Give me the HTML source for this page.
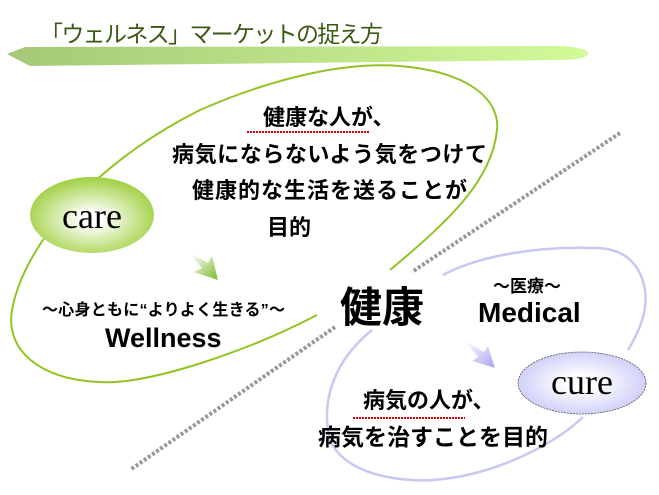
<html><body style="margin:0;background:#fff">
<svg width="659" height="495" xmlns="http://www.w3.org/2000/svg" style="font-family:'Liberation Sans','Noto Sans CJK JP',sans-serif">
<defs>
<linearGradient id="bar" x1="0" x2="1"><stop offset="0" stop-color="#a5c878"/><stop offset="1" stop-color="#d2fa98"/></linearGradient>
<radialGradient id="gc" cx="0.5" cy="0.55" r="0.55"><stop offset="0.15" stop-color="#fff"/><stop offset="1" stop-color="#a0d040"/></radialGradient>
<radialGradient id="bc" cx="0.5" cy="0.5" r="0.6"><stop offset="0.2" stop-color="#fff"/><stop offset="1" stop-color="#c4c4f8"/></radialGradient>
<linearGradient id="ga" x1="0" y1="0" x2="1" y2="1"><stop offset="0.1" stop-color="#fff"/><stop offset="0.9" stop-color="#8cc040"/></linearGradient>
<linearGradient id="ba" x1="0" y1="0" x2="1" y2="1"><stop offset="0.1" stop-color="#fff"/><stop offset="0.9" stop-color="#b0b0f2"/></linearGradient>
</defs>
<text x="40" y="42" font-size="23" fill="#3a5a12" textLength="343">「ウェルネス」マーケットの捉え方</text>
<path d="M7,54 L25,47 L560,46 Q590,48 588,54 Q585,60 560,60 L30,66 Z" fill="url(#bar)"/>
<path d="M317,315 C250,350 150,385 100,382 C40,380 5,350 12,310 C25,240 100,160 200,110 C280,75 350,62 400,66 C470,72 500,100 497,130 C492,180 450,220 390,270" fill="none" stroke="#92c424" stroke-width="2"/>
<path d="M372,330 C335,360 320,400 330,440 C345,475 400,482 433,480 C500,475 560,440 583,417 M628,350 C640,330 648,310 645,290 C640,260 620,248 595,248 C540,246 480,255 443,275" fill="none" stroke="#c8c8f4" stroke-width="2.5"/>
<line x1="620" y1="133" x2="412" y2="272" stroke="#999" stroke-width="4" stroke-dasharray="3,2"/>
<line x1="335" y1="327" x2="130" y2="470" stroke="#999" stroke-width="4" stroke-dasharray="3,2"/>
<ellipse cx="92" cy="215" rx="62" ry="38" fill="url(#gc)"/>
<text x="92" y="228" font-size="36" text-anchor="middle" font-family="Liberation Serif,serif">care</text>
<ellipse cx="582" cy="383" rx="64" ry="31" fill="url(#bc)" stroke="#555" stroke-width="0.8" stroke-dasharray="2,1"/>
<text x="582" y="394" font-size="36" text-anchor="middle" font-family="Liberation Serif,serif">cure</text>
<path d="M188,252 L208,263 L212,256 L218,280 L194,272 L202,268Z" fill="url(#ga)"/>
<path d="M462,338 L484,352 L488,346 L495,368 L472,361 L478,357Z" fill="url(#ba)"/>
<g font-weight="bold" fill="#000">
<text x="263" y="125" font-size="22">健康な人が、</text>
<text x="172" y="162" font-size="22" textLength="315">病気にならないよう気をつけて</text>
<text x="192" y="198" font-size="22" textLength="275">健康的な生活を送ることが</text>
<text x="267" y="235" font-size="22">目的</text>
<text x="42" y="315" font-size="16" textLength="243">～心身ともに“よりよく生きる”～</text>
<text x="105" y="347" font-size="27">Wellness</text>
<text x="340" y="322" font-size="42">健康</text>
<text x="493" y="292" font-size="17">～医療～</text>
<text x="478" y="322" font-size="28">Medical</text>
<text x="363" y="408" font-size="22">病気の人が、</text>
<text x="318" y="445" font-size="23" textLength="230">病気を治すことを目的</text>
</g>
<line x1="247" y1="132" x2="369" y2="132" stroke="#d00" stroke-width="2" stroke-dasharray="2,1"/>
<line x1="353" y1="418" x2="465" y2="418" stroke="#d00" stroke-width="2" stroke-dasharray="2,1"/>
</svg>
</body></html>
